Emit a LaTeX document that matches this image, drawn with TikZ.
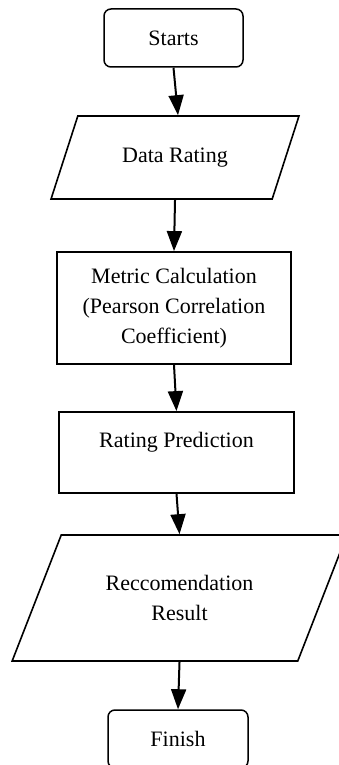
\documentclass[tikz,border=0pt]{standalone}
\usepackage{fontspec}
\setmainfont{Liberation Serif}
\usetikzlibrary{arrows.meta}
\usetikzlibrary{shapes.geometric}

\begin{document}
\begin{tikzpicture}[x=1pt,y=-1pt,font=\fontsize{22}{30}\selectfont,
  term/.style={draw,rounded corners=7pt,line width=1.5pt,minimum width=139pt,minimum height=58pt,inner sep=0pt},
  proc/.style={draw,line width=1.8pt,inner sep=0pt,align=center},
  io/.style={draw,trapezium,trapezium stretches=true,line width=1.6pt,inner sep=0pt,align=center},
  flow/.style={line width=2pt,-{Triangle[length=20pt,width=15pt]}}]
\useasboundingbox (0,0) rectangle (339,765);
\clip (0,0) rectangle (339,765);
% the steps, top to bottom
\node[term] (start) at (173.5,38) {Starts};
\node[io,trapezium left angle=53,trapezium right angle=127,minimum width=248pt,minimum height=83pt] (data) at (175,157.5) {Data Rating};
\node[proc,minimum width=234pt,minimum height=112pt] (metric) at (174,308) {Metric Calculation\\(Pearson Correlation\\Coefficient)};
\node[proc,minimum width=235pt,minimum height=81pt,text depth=25pt] (rating) at (176.5,452.5) {Rating Prediction};
\node[io,trapezium left angle=56,trapezium right angle=124,minimum width=335pt,minimum height=126pt] (result) at (179.5,598) {Reccomendation\\Result};
\node[term,minimum width=140pt] (finish) at (178,739) {Finish};
% connectors
\draw[flow] (start.south) -- ([xshift=3pt]data.north);
\draw[flow] (data.south) -- (metric.north);
\draw[flow] (metric.south) -- (rating.north);
\draw[flow] (rating.south) -- (result.north);
\draw[flow] (result.south) -- (finish.north);
\end{tikzpicture}
\end{document}
